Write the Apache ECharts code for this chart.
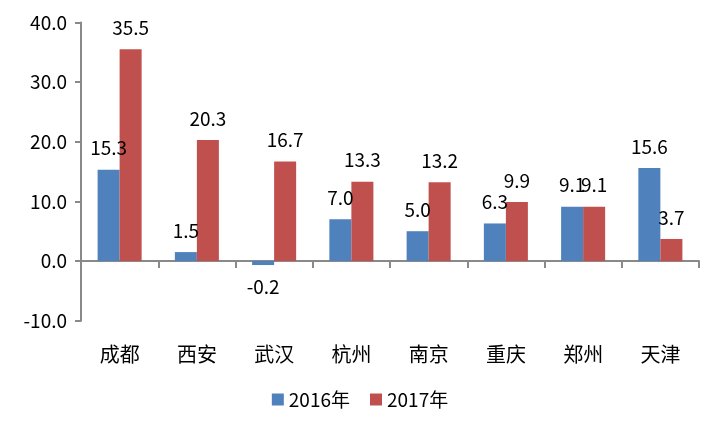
<!DOCTYPE html>
<html><head><meta charset="utf-8">
<script src="https://cdn.jsdelivr.net/npm/echarts@6/dist/echarts.min.js"></script>
<style>html,body{margin:0;padding:0;background:#fff}#c{width:720px;height:432px}</style>
</head><body><div id="c"></div>
<script>
const categories = ['成都','西安','武汉','杭州','南京','重庆','郑州','天津'];
const s2016 = [15.3, 1.5, -0.2, 7.0, 5.0, 6.3, 9.1, 15.6];
const s2017 = [35.5, 20.3, 16.7, 13.3, 13.2, 9.9, 9.1, 3.7];
const yTicks = [-10, 0, 10, 20, 30, 40];

const FONT = '"Noto Sans CJK SC", "Noto Sans", sans-serif';
const axisColor = '#898989';
function mk(arr){
  return arr.map(v => ({value: v, label: {position: v < 0 ? 'bottom' : 'top'}}));
}
const chart = echarts.init(document.getElementById('c'));
chart.setOption({
  animation: false,
  textStyle: {fontFamily: FONT},
  grid: {left: 81, right: 21, top: 22.4, bottom: 111.3, containLabel: false},
  legend: {
    data: ['2016年','2017年'], bottom: 18, left: 'center',
    itemWidth: 12, itemHeight: 12, itemGap: 20, icon: 'rect',
    textStyle: {fontSize: 19, color: '#000', fontFamily: FONT}
  },
  xAxis: [{
    type: 'category', data: categories,
    axisLine: {onZero: true, lineStyle: {color: axisColor, width: 2}},
    axisTick: {show: true, length: 7, lineStyle: {color: axisColor, width: 2}},
    axisLabel: {show: false}
  },{
    type: 'category', data: categories, position: 'bottom',
    axisLine: {show: false}, axisTick: {show: false},
    axisLabel: {show: true, margin: 24, fontSize: 20, color: '#000', fontFamily: FONT}
  }],
  yAxis: {
    type: 'value', min: yTicks[0], max: yTicks[yTicks.length-1], interval: 10,
    splitLine: {show: false},
    axisLine: {show: true, lineStyle: {color: axisColor, width: 2}},
    axisTick: {show: true, length: 6, lineStyle: {color: axisColor, width: 2}},
    axisLabel: {fontSize: 19, color: '#000', margin: 14, formatter: v => v.toFixed(1), fontFamily: FONT}
  },
  series: [{
    name: '2016年', type: 'bar', data: mk(s2016), xAxisIndex: 0,
    barGap: '0%', barCategoryGap: '43%', barMinHeight: 4,
    itemStyle: {color: '#4F81BD'},
    label: {show: true, distance: 12, fontSize: 19, color: '#000', formatter: p => p.value.toFixed(1), fontFamily: FONT}
  },{
    name: '2017年', type: 'bar', data: mk(s2017), xAxisIndex: 0,
    barGap: '0%', barCategoryGap: '43%',
    itemStyle: {color: '#C0504D'},
    label: {show: true, distance: 12, fontSize: 19, color: '#000', formatter: p => p.value.toFixed(1), fontFamily: FONT}
  }]
});
</script></body></html>
